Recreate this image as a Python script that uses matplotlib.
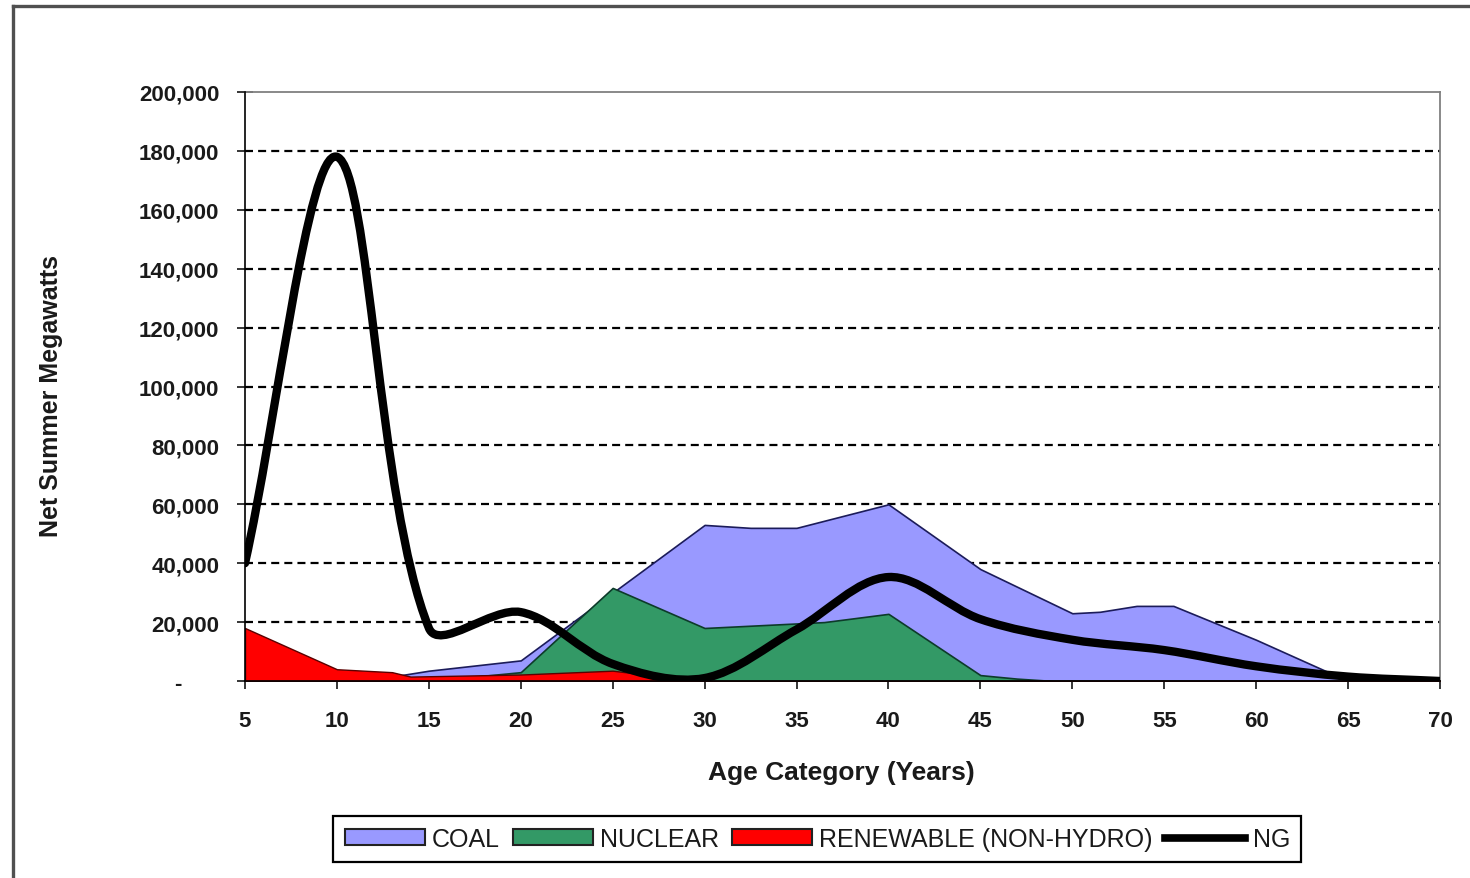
import numpy as np
import matplotlib
matplotlib.use("Agg")
import matplotlib.pyplot as plt
from matplotlib.path import Path
from matplotlib.patches import PathPatch, Patch
from matplotlib.lines import Line2D
from matplotlib.ticker import FuncFormatter

plt.rcParams['font.family'] = ['Liberation Sans', 'DejaVu Sans']

# values (net summer MW by age category)
coal_age = [5, 10, 13, 15, 20, 25, 30, 32.5, 35, 40, 45, 50, 51.5, 53.5, 55.5, 60, 65, 70]
coal_mw = [0, 0, 1500, 3500, 7000, 30000, 53000, 52000, 52000, 60000, 38000, 23000,
           23500, 25500, 25500, 14000, 0, 0]

nuclear_age = [5, 15, 20, 25, 30, 36.5, 40, 45, 47, 49, 70]
nuclear_mw = [0, 0, 3000, 31600, 18000, 20000, 22800, 2000, 800, 0, 0]

renew_age = [5, 10, 13, 14, 20, 25, 27, 28, 70]
renew_mw = [18000, 4000, 3000, 1500, 2200, 3500, 2000, 0, 0]

ng_age = [5, 10, 15, 20, 25, 30, 35, 40, 45, 50, 55, 60, 65, 70]
ng_mw = [40000, 178000, 18000, 23400, 5800, 1000, 17500, 35300, 21000, 14000,
         10500, 5000, 1500, 0]

x_ticks = list(range(5, 75, 5))
y_ticks = list(range(0, 200001, 20000))

COAL_C = '#9999ff'
NUC_C = '#339966'
REN_C = '#ff0000'
TXT_C = '#1a1a1a'


def smooth_path(ax, xs, ys, k=1/3):
    # excel-like smoothed line: bezier segments, tangents weighted by segment length
    pts = ax.transData.transform(np.column_stack([xs, ys]))
    n = len(pts)
    verts = [pts[0]]
    codes = [Path.MOVETO]
    for i in range(n - 1):
        p0 = pts[max(i - 1, 0)]
        p1 = pts[i]
        p2 = pts[i + 1]
        p3 = pts[min(i + 2, n - 1)]
        d0 = np.hypot(*(p1 - p0))
        d1 = np.hypot(*(p2 - p1))
        d2 = np.hypot(*(p3 - p2))
        c1 = p1 + (p2 - p0) * k * d1 / (d0 + d1)
        c2 = p2 - (p3 - p1) * k * d1 / (d1 + d2)
        verts += [c1, c2, p2]
        codes += [Path.CURVE4] * 3
    verts = ax.transData.inverted().transform(np.array(verts))
    return Path(verts, codes)


def ytick_fmt(v, pos):
    if v == 0:
        return '-      '
    return f'{int(v):,}'


fig = plt.figure(figsize=(14.7, 8.79), dpi=100)
ax = fig.add_axes([245 / 1470, 1 - 682 / 879, 1195 / 1470, 589 / 879])
ax.set_xlim(5, 70)
ax.set_ylim(0, 200000)

ax.fill_between(coal_age, coal_mw, color=COAL_C, edgecolor='#1c1c5a', linewidth=1.2, zorder=2)
ax.fill_between(nuclear_age, nuclear_mw, color=NUC_C, edgecolor='#0d3b2a', linewidth=1.2, zorder=3)
ax.fill_between(renew_age, renew_mw, color=REN_C, edgecolor='#5a0000', linewidth=1.0, zorder=4)

ng_path = smooth_path(ax, ng_age, ng_mw)
ax.add_patch(PathPatch(ng_path, facecolor='none', edgecolor='black', linewidth=6,
                       capstyle='round', joinstyle='round', zorder=5))

# axes styling
ax.set_xticks(x_ticks)
ax.set_yticks(y_ticks)
ax.yaxis.set_major_formatter(FuncFormatter(ytick_fmt))
ax.tick_params(axis='y', direction='inout', length=11, width=1.1, pad=13,
               labelsize=16, labelcolor=TXT_C)
ax.tick_params(axis='x', direction='out', length=6, width=1.1, pad=15,
               labelsize=16, labelcolor=TXT_C)
for lbl in ax.get_xticklabels() + ax.get_yticklabels():
    lbl.set_fontweight('bold')

ax.set_axisbelow(True)
ax.yaxis.grid(True, color='black', linewidth=1.6, linestyle=(0, (3.6, 2.3)))
gl = ax.yaxis.get_gridlines()
gl[0].set_visible(False)
gl[-1].set_visible(False)

for s in ['left', 'bottom']:
    ax.spines[s].set_color('black')
    ax.spines[s].set_linewidth(1.2)
    ax.spines[s].set_zorder(6)
for s in ['top', 'right']:
    ax.spines[s].set_color('#808080')
    ax.spines[s].set_linewidth(1.3)

ax.set_xlabel('Age Category (Years)', fontsize=19, fontweight='bold', color=TXT_C)
ax.xaxis.set_label_coords(0.499, -0.134)
ax.set_ylabel('Net Summer Megawatts', fontsize=18, fontweight='bold', color=TXT_C)
ax.yaxis.set_label_coords(-0.152, 0.485)

handles = [
    Patch(facecolor=COAL_C, edgecolor='#222222', linewidth=1.5),
    Patch(facecolor=NUC_C, edgecolor='#222222', linewidth=1.5),
    Patch(facecolor=REN_C, edgecolor='#222222', linewidth=1.5),
    Line2D([], [], color='black', linewidth=5.5),
]
labels = ['COAL', 'NUCLEAR', 'RENEWABLE (NON-HYDRO)', 'NG']
leg = fig.legend(handles, labels, loc='center', bbox_to_anchor=(0.556, 0.0444), ncol=4,
                 fontsize=18, frameon=True, fancybox=False, framealpha=1,
                 edgecolor='black', handlelength=3.2, handleheight=0.6, handletextpad=0.3,
                 columnspacing=0.5, borderpad=0.45)
leg.get_frame().set_linewidth(1.6)
for t in leg.get_texts():
    t.set_color(TXT_C)

# outer chart border (left and top edges visible in the reference)
fig.add_artist(Line2D([13 / 1470, 13 / 1470], [0, 1 - 7 / 879], transform=fig.transFigure,
                      color='#505050', linewidth=2.4))
fig.add_artist(Line2D([13 / 1470, 1], [1 - 7 / 879, 1 - 7 / 879], transform=fig.transFigure,
                      color='#505050', linewidth=2.4))

fig.savefig('out.png', dpi=100)
